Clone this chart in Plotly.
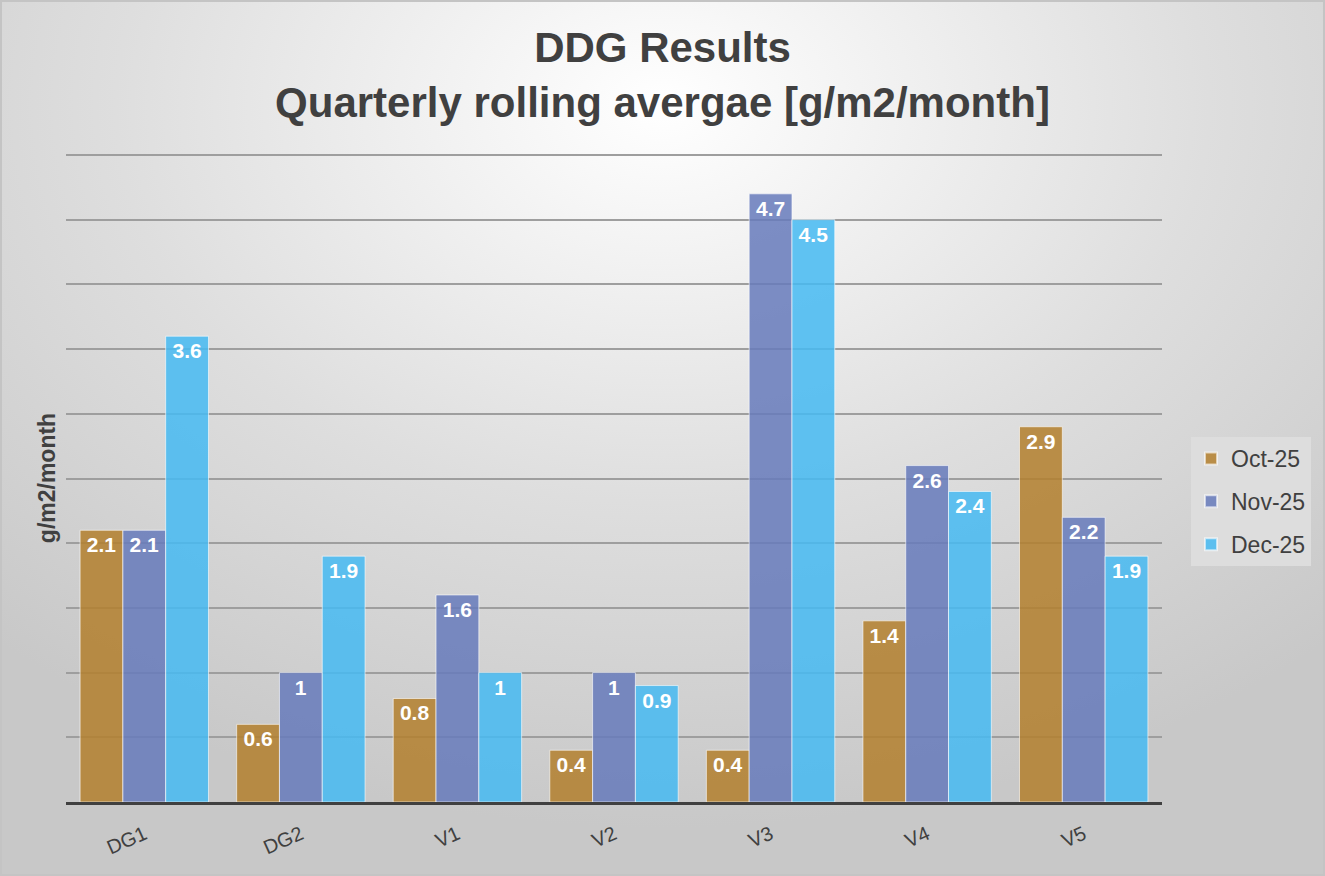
import base64

import plotly.graph_objects as go

# ── Data ─────────────────────────────────────────────
SITES = ["DG1", "DG2", "V1", "V2", "V3", "V4", "V5"]
OCT_25 = [2.1, 0.6, 0.8, 0.4, 0.4, 1.4, 2.9]
NOV_25 = [2.1, 1.0, 1.6, 1.0, 4.7, 2.6, 2.2]
DEC_25 = [3.6, 1.9, 1.0, 0.9, 4.5, 2.4, 1.9]

SERIES = [
    ("Oct-25", OCT_25, "rgba(179,127,45,0.85)"),
    ("Nov-25", NOV_25, "rgba(102,122,187,0.85)"),
    ("Dec-25", DEC_25, "rgba(69,186,242,0.85)"),
]

W, H = 1325, 876
ML, MR, MT, MB = 66, 163, 154, 74
PW, PH = W - ML - MR, H - MT - MB

# radial grey background, like the office chart style
svg = f"""<svg xmlns="http://www.w3.org/2000/svg" width="{W}" height="{H}" viewBox="0 0 {W} {H}" preserveAspectRatio="none">
<defs><radialGradient id="g" cx="0.5" cy="0.12" r="0.75" gradientTransform="translate(0.5 0.12) scale(1 1.1) translate(-0.5 -0.12)">
<stop offset="0" stop-color="#ffffff"/><stop offset="0.55" stop-color="#dedede"/><stop offset="1" stop-color="#c8c8c8"/>
</radialGradient></defs>
<rect width="{W}" height="{H}" fill="url(#g)"/>
<rect x="1" y="1" width="{W-2}" height="{H-2}" fill="none" stroke="#c4c4c4" stroke-width="2"/>
</svg>"""
bg_uri = "data:image/svg+xml;base64," + base64.b64encode(svg.encode()).decode()

fig = go.Figure()
for name, vals, color in SERIES:
    fig.add_trace(go.Bar(
        x=SITES, y=vals, name=name, legendgroup=name,
        marker=dict(color=color, line=dict(color="rgba(255,255,255,0.6)", width=1)),
        text=[f"{v:g}" for v in vals],
        textposition="inside", insidetextanchor="end", textangle=0,
        textfont=dict(family="Liberation Sans, Arial", size=21, color="white", weight="bold"),
        constraintext="none",
    ))

fig.update_layout(
    width=W, height=H,
    margin=dict(l=ML, r=MR, t=MT, b=MB),
    barmode="group", bargap=0.18, bargroupgap=0,
    paper_bgcolor="#d8d8d8", plot_bgcolor="rgba(0,0,0,0)",
    font=dict(family="Liberation Sans, Arial", color="#404040"),
    title=dict(
        text="DDG Results<br>Quarterly rolling avergae [g/m2/month]",
        x=0.5, xanchor="center", xref="container",
        y=1 - 62 / H, yanchor="top", yref="container",
        font=dict(size=42, color="#404040", weight="bold"),
    ),
    xaxis=dict(
        tickangle=-24, tickfont=dict(size=20, color="#404040"),
        showgrid=False, showline=True, linecolor="#404040", linewidth=3,
        ticks="", ticklabelstandoff=10,
    ),
    yaxis=dict(
        range=[0, 5.008], tickvals=[0.5 * i for i in range(1, 11)], showticklabels=False,
        showgrid=True, gridcolor="#9e9e9e", gridwidth=1.5,
        zeroline=False, showline=False,
        title=dict(text="g/m2/month", font=dict(size=23, color="#404040", weight="bold"), standoff=2),
    ),
    legend=dict(
        x=(1191 - ML) / PW, xanchor="left",
        y=(802 - 437) / PH, yanchor="top",
        bgcolor="#dddddd", font=dict(size=23, color="#404040"),
        itemsizing="constant", tracegroupgap=10,
    ),
    images=[dict(
        source=bg_uri, xref="paper", yref="paper",
        x=-ML / PW, y=1 + MT / PH, sizex=W / PW, sizey=H / PH,
        xanchor="left", yanchor="top", sizing="stretch", layer="below",
    )],
)

fig.write_html(
    "out.html",
    config={"displayModeBar": False},
    post_script="document.body.style.margin='0';",
)
